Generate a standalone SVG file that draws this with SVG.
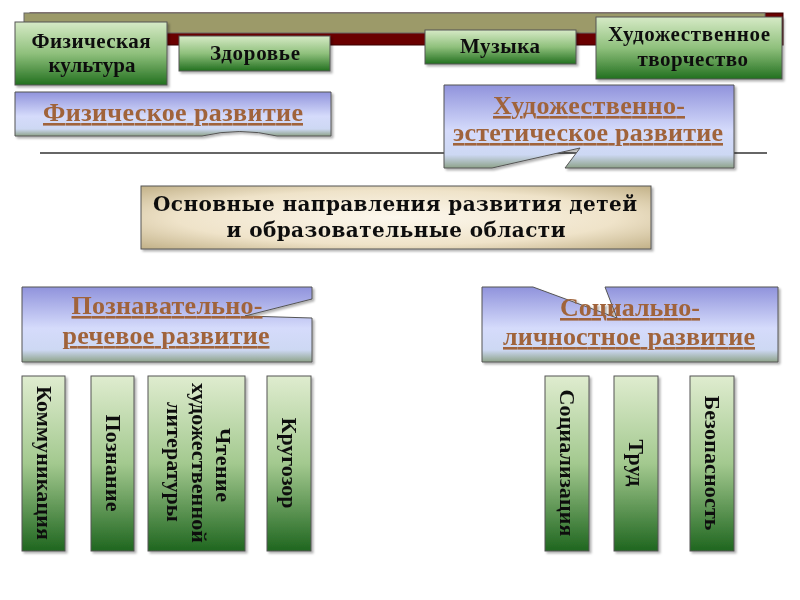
<svg xmlns="http://www.w3.org/2000/svg" width="800" height="600" viewBox="0 0 800 600">
<defs>
  <linearGradient id="gGreen" x1="0" y1="0" x2="0" y2="1">
    <stop offset="0" stop-color="#d6eac6"/>
    <stop offset="0.5" stop-color="#8fc07c"/>
    <stop offset="1" stop-color="#22701f"/>
  </linearGradient>
  <linearGradient id="gGreenV" x1="0" y1="0" x2="0" y2="1">
    <stop offset="0" stop-color="#dfeccf"/>
    <stop offset="0.5" stop-color="#a3c98f"/>
    <stop offset="1" stop-color="#1f661f"/>
  </linearGradient>
  <linearGradient id="gBlue" x1="0" y1="0" x2="0" y2="1">
    <stop offset="0" stop-color="#9093dc"/>
    <stop offset="0.55" stop-color="#d5dbfb"/>
    <stop offset="0.84" stop-color="#cdd8f3"/>
    <stop offset="1" stop-color="#8ea38a"/>
  </linearGradient>
  <radialGradient id="gBeige" cx="0.5" cy="0.5" r="0.72">
    <stop offset="0" stop-color="#fdf8ee"/>
    <stop offset="0.6" stop-color="#efe3c9"/>
    <stop offset="1" stop-color="#bfae84"/>
  </radialGradient>
  <filter id="sh" x="-10%" y="-10%" width="130%" height="130%">
    <feDropShadow dx="2" dy="2" stdDeviation="1.2" flood-color="#000" flood-opacity="0.3"/>
  </filter>
  <style>
    .box { stroke: #555; stroke-width: 1; }
    .green { fill: url(#gGreen); }
    .greenv { fill: url(#gGreenV); }
    .blue { fill: url(#gBlue); }
    .t { font-family: "Liberation Serif", "Times New Roman", serif; font-weight: bold; fill: #111; text-anchor: middle; }
    .s18 { font-size: 21px; }
    .area { font-family: "Liberation Serif", "Times New Roman", serif; font-weight: bold; font-size: 26px; fill: #a0643a; text-anchor: middle; text-decoration: underline; }
    .main { font-family: "DejaVu Serif", "Liberation Serif", serif; font-weight: bold; font-size: 20px; fill: #111; text-anchor: middle; }
    .vt { font-family: "Liberation Serif", "Times New Roman", serif; font-weight: bold; font-size: 22px; fill: #111; text-anchor: middle; }
  </style>
</defs>

<g id="top-bar">
  <rect x="30" y="13" width="753" height="32" fill="#6a0000" stroke="#3a0000" stroke-width="1"/>
  <rect x="24" y="13" width="741" height="20" fill="#9c9a69" stroke="#666" stroke-width="1"/>
</g>

<g id="lines">
  <line x1="40" y1="153" x2="767" y2="153" stroke="#333" stroke-width="1.5"/>
</g>

<g id="fizkultura" filter="url(#sh)">
  <rect class="box green" x="15" y="22" width="152" height="63"/>
  <text class="t s18" x="91" y="48" textLength="119" lengthAdjust="spacing">Физическая</text>
  <text class="t s18" x="92" y="72" textLength="87" lengthAdjust="spacing">культура</text>
</g>
<g id="zdorovye" filter="url(#sh)">
  <rect class="box green" x="179" y="36" width="151" height="35"/>
  <text class="t s18" x="255" y="60" textLength="90" lengthAdjust="spacing">Здоровье</text>
</g>
<g id="muzyka" filter="url(#sh)">
  <rect class="box green" x="425" y="30" width="151" height="34"/>
  <text class="t s18" x="500" y="53" textLength="80" lengthAdjust="spacing">Музыка</text>
</g>
<g id="hud-tvorchestvo" filter="url(#sh)">
  <rect class="box green" x="596" y="17" width="186" height="62"/>
  <text class="t s18" x="689" y="41" textLength="162" lengthAdjust="spacing">Художественное</text>
  <text class="t s18" x="693" y="66" letter-spacing="0.5">творчество</text>
</g>

<g id="fiz-razvitie" filter="url(#sh)">
  <path class="box blue" d="M15,92 H331 V136 H277 Q240,127 202,136 H15 Z"/>
  <text class="area" x="173" y="121" textLength="260" lengthAdjust="spacing">Физическое развитие</text>
</g>

<g id="hud-est-razvitie" filter="url(#sh)">
  <path class="box blue" d="M444,85 H734 V168 H565 L580,148 L492,168 H444 Z"/>
  <text class="area" x="589" y="114" textLength="192" lengthAdjust="spacing">Художественно-</text>
  <text class="area" x="588" y="141" textLength="270" lengthAdjust="spacing">эстетическое развитие</text>
</g>

<g id="osnovnye" filter="url(#sh)">
  <rect class="box" x="141" y="186" width="510" height="63" fill="url(#gBeige)"/>
  <text class="main" x="395" y="211" textLength="484" lengthAdjust="spacing">Основные направления развития детей</text>
  <text class="main" x="396" y="237" textLength="339" lengthAdjust="spacing">и образовательные области</text>
</g>

<g id="pozn-rech-razvitie" filter="url(#sh)">
  <path class="box blue" d="M22,287 H312 V299 L245,316 L312,318 V362 H22 Z"/>
  <text class="area" x="167" y="314" textLength="191" lengthAdjust="spacing">Познавательно-</text>
  <text class="area" x="166" y="344" textLength="207" lengthAdjust="spacing">речевое развитие</text>
</g>

<g id="soc-lich-razvitie" filter="url(#sh)">
  <path class="box blue" d="M482,287 H533 L617,318 L605,287 H778 V362 H482 Z"/>
  <text class="area" x="630" y="316" textLength="140" lengthAdjust="spacing">Социально-</text>
  <text class="area" x="629" y="345" textLength="252" lengthAdjust="spacing">личностное развитие</text>
</g>

<g id="kommunikaciya" filter="url(#sh)">
  <rect class="box greenv" x="22" y="376" width="43" height="175"/>
  <text class="vt" transform="translate(43.5,463) rotate(90)" x="0" y="7" textLength="154" lengthAdjust="spacing">Коммуникация</text>
</g>
<g id="poznanie" filter="url(#sh)">
  <rect class="box greenv" x="91" y="376" width="43" height="175"/>
  <text class="vt" transform="translate(112.5,463) rotate(90)" x="0" y="7" textLength="97" lengthAdjust="spacing">Познание</text>
</g>
<g id="chtenie" filter="url(#sh)">
  <rect class="box greenv" x="148" y="376" width="97" height="175"/>
  <text class="vt" transform="translate(196.5,463) rotate(90)" x="2" y="-19" textLength="74" lengthAdjust="spacing">Чтение</text>
  <text class="vt" transform="translate(196.5,463) rotate(90)" x="0" y="5" textLength="160" lengthAdjust="spacing">художественной</text>
  <text class="vt" transform="translate(196.5,463) rotate(90)" x="-1" y="30" textLength="120" lengthAdjust="spacing">литературы</text>
</g>
<g id="krugozor" filter="url(#sh)">
  <rect class="box greenv" x="267" y="376" width="44" height="175"/>
  <text class="vt" transform="translate(289,463) rotate(90)" x="0" y="7" textLength="91" lengthAdjust="spacing">Кругозор</text>
</g>
<g id="socializaciya" filter="url(#sh)">
  <rect class="box greenv" x="545" y="376" width="44" height="175"/>
  <text class="vt" transform="translate(567,463) rotate(90)" x="0" y="7" textLength="147" lengthAdjust="spacing">Социализация</text>
</g>
<g id="trud" filter="url(#sh)">
  <rect class="box greenv" x="614" y="376" width="44" height="175"/>
  <text class="vt" transform="translate(636,463) rotate(90)" x="0" y="7" textLength="47" lengthAdjust="spacing">Труд</text>
</g>
<g id="bezopasnost" filter="url(#sh)">
  <rect class="box greenv" x="690" y="376" width="44" height="175"/>
  <text class="vt" transform="translate(712,463) rotate(90)" x="0" y="7" textLength="135" lengthAdjust="spacing">Безопасность</text>
</g>
</svg>
